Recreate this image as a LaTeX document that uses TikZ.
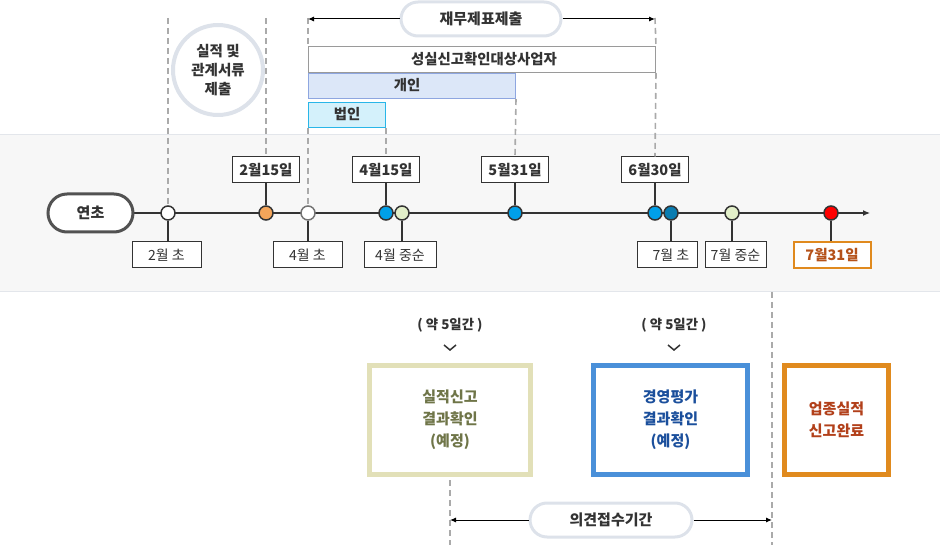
\documentclass[tikz,border=0pt]{standalone}
\usepackage{fontspec}
\setmainfont{Noto Sans CJK KR}
\usetikzlibrary{arrows.meta,calc}
\definecolor{bandfill}{HTML}{F7F7F7}
\definecolor{bandline}{HTML}{E3E6EB}
\definecolor{dashgray}{HTML}{AAAAAA}
\definecolor{pillgray}{HTML}{DDE2EA}
\definecolor{txt}{HTML}{333333}
\definecolor{boxgray}{HTML}{9A9A9A}
\definecolor{gaeinfill}{HTML}{DCE7F8}
\definecolor{gaeinline}{HTML}{8EA6E0}
\definecolor{beobfill}{HTML}{D4F1FB}
\definecolor{beobline}{HTML}{29B6E8}
\definecolor{dotorange}{HTML}{F4A55A}
\definecolor{dotblue}{HTML}{00A0E9}
\definecolor{dotdblue}{HTML}{0A7CB0}
\definecolor{dotgreen}{HTML}{E2EFC9}
\definecolor{dotred}{HTML}{FF0000}
\definecolor{orangeline}{HTML}{E08A1E}
\definecolor{orangetxt}{HTML}{B5521A}
\definecolor{beigeline}{HTML}{E2E0B8}
\definecolor{olivetxt}{HTML}{6F7548}
\definecolor{blueline}{HTML}{4A90D9}
\definecolor{bluetxt}{HTML}{1B4F9C}
\definecolor{redtxt}{HTML}{B2401A}
\tikzset{
  dashln/.style={draw=dashgray, line width=1.6pt, dash pattern=on 6pt off 4pt},
  dot/.style={circle, draw=txt, line width=1.5pt, minimum size=14pt, inner sep=0pt, fill=white},
  toplbl/.style={draw=txt, line width=1pt, fill=white, text=txt, font=\bfseries\fontsize{14.5}{16}\selectfont, minimum width=67pt, minimum height=26pt, inner sep=0pt},
  botlbl/.style={draw=txt, line width=1pt, fill=white, text=txt, font=\fontsize{14}{16}\selectfont, minimum height=26pt, inner sep=0pt},
  stem/.style={draw=txt, line width=1.2pt},
  pill/.style={draw=pillgray, line width=3pt, fill=white, rounded corners=17pt, minimum width=160pt, minimum height=34pt, text=txt, font=\bfseries\fontsize{15}{17}\selectfont, inner sep=0pt},
  arr/.style={draw=black, line width=1pt, -{Latex[length=6pt,width=5pt]}},
  barbox/.style={line width=1pt, minimum height=26pt, inner sep=0pt, anchor=north west},
  bartxt/.style={font=\bfseries\fontsize{14.4}{16}\selectfont, text=txt, inner sep=0pt},
  resbox/.style={line width=5pt, fill=white, minimum height=109pt, inner sep=0pt, align=center, font=\bfseries\fontsize{15}{22}\selectfont},
  note/.style={text=txt, font=\bfseries\fontsize{13.4}{15}\selectfont, inner sep=0pt},
  chev/.style={draw=txt, line width=1.5pt}
}
\begin{document}
\begin{tikzpicture}[x=1pt,y=-1pt]
\useasboundingbox (0,0) rectangle (940,545);
% band
\fill[bandfill] (0,135) rectangle (940,292);
\draw[bandline, line width=1pt] (0,135) -- (940,135) (0,292) -- (940,292);

\coordinate (tlstart) at (133,213);
\coordinate (tend) at (870,213);

% free ends
\coordinate (c168) at (168,18);
\coordinate (c266) at (266,18);
\coordinate (c308) at (308,18);
\coordinate (c386) at (386,128);
\coordinate (c655) at (655,18);
\coordinate (c772a) at (772,292);
\coordinate (c772b) at (772,545);
\coordinate (c450b) at (450,545);

% labels on timeline
\node[toplbl] (l215) at (266,170) {2월15일};
\node[toplbl] (l415) at (386,170) {4월15일};
\node[toplbl] (l531) at (515,170) {5월31일};
\node[toplbl] (l630) at (655,170) {6월30일};

\node[botlbl, minimum width=69pt] (b2) at (166.5,255) {2월 초};
\node[botlbl, minimum width=69pt] (b4) at (307.5,255) {4월 초};
\node[botlbl, minimum width=72pt] (b4m) at (400,255) {4월 중순};
\node[botlbl, minimum width=60pt] (b7) at (667,255) {\hspace*{8pt}7월 초};
\node[botlbl, minimum width=61pt] (b7m) at (735.5,255) {7월 중순};
\node[botlbl, minimum width=77pt, draw=orangeline, line width=2pt, text=orangetxt, font=\bfseries\fontsize{14.5}{16}\selectfont] (b731) at (832,255) {7월31일};

% bars
\node[barbox, draw=boxgray, fill=white, minimum width=347pt] (sung) at (308,46) {};
\node[bartxt] (sungt) at (484,59.5) {성실신고확인대상사업자};
\node[barbox, draw=gaeinline, fill=gaeinfill, minimum width=207pt, minimum height=25pt] (gaein) at (308,73) {};
\node[bartxt] (gaeint) at (407,85.5) {개인};
\node[barbox, draw=beobline, fill=beobfill, minimum width=77pt, minimum height=25pt] (beob) at (308,102) {};
\node[bartxt] (beobt) at (347,114.5) {법인};

% timeline
\draw[line width=1.2pt, draw=txt, -{Latex[length=7pt,width=6pt]}] (tlstart) -- (tend);
\node[draw=txt!85, line width=3pt, fill=white, rounded corners=19pt, minimum width=85pt, minimum height=38pt, text=txt, font=\bfseries\fontsize{15}{17}\selectfont, inner sep=0pt] (yc) at (90.5,213) {연초};

\node[dot] (d1) at (168,213) {};
\node[dot, fill=dotorange] (d2) at (266,213) {};
\node[dot, draw=black!55] (d3) at (308,213) {};
\node[dot, fill=dotblue] (d4) at (386,213) {};
\node[dot, fill=dotgreen] (d5) at (402,213) {};
\node[dot, fill=dotblue] (d6) at (515,213) {};
\node[dot, fill=dotblue] (d7) at (655,213) {};
\node[dot, fill=dotdblue] (d8) at (671,213) {};
\node[dot, fill=dotgreen] (d9) at (732,213) {};
\node[dot, fill=dotred] (d10) at (831,213) {};

% stems
\draw[stem] (l215.south) -- (d2.north);
\draw[stem] (l415.south) -- (d4.north);
\draw[stem] (l531.south) -- (d6.north);
\draw[stem] (l630.south) -- (d7.north);
\draw[stem] (d1.south) -- (d1.south |- b2.north);
\draw[stem] (d3.south) -- (d3.south |- b4.north);
\draw[stem] (d5.south) -- (d5.south |- b4m.north);
\draw[stem] (d8.south) -- (d8.south |- b7.north);
\draw[stem] (d9.south) -- (d9.south |- b7m.north);
\draw[stem] (d10.south) -- (d10.south |- b731.north);

% dashed guides
\draw[dashln] (c168) -- (d1.north);
\draw[dashln] (c266) -- (l215.north);
\draw[dashln] (c308) -- (sung.north west);
\draw[dashln] (beob.south west) -- (d3.north);
\draw[dashln] (c386) -- (l415.north);
\draw[dashln] (gaein.south east) -- (l531.north);
\draw[dashln] (c655) -- (sung.north east);
\draw[dashln] (sung.south east) -- (l630.north);
\draw[dashln] (c772a) -- (c772b);

% circle note
\node[circle, draw=pillgray, line width=4pt, fill=white, minimum size=90pt, inner sep=0pt, align=center, text=txt, font=\bfseries\fontsize{14.5}{19}\selectfont] (circ) at (218,70) {실적 및\\관계서류\\제출};

% 재무제표제출
\coordinate (a1) at (308,19);
\coordinate (a2) at (655,19);
\node[pill] (jm) at (481,19) {재무제표제출};
\draw[arr] (jm.west) -- (a1);
\draw[arr] (jm.east) -- (a2);

% lower
\node[note] (n1) at (450,325) {( 약 5일간 )};
\node[note] (n2) at (674,325) {( 약 5일간 )};
\coordinate (v1) at (450,350);
\coordinate (v2) at (674,350);
\draw[chev] ($(v1)+(-6,-5)$) -- (v1) -- ($(v1)+(6,-5)$);
\draw[chev] ($(v2)+(-6,-5)$) -- (v2) -- ($(v2)+(6,-5)$);

\node[resbox, draw=beigeline, text=olivetxt, minimum width=161pt] (r1) at (450,420) {실적신고\\결과확인\\(예정)};
\node[resbox, draw=blueline, text=bluetxt, minimum width=154pt] (r2) at (670.5,420) {경영평가\\결과확인\\(예정)};
\node[resbox, draw=orangeline, text=redtxt, minimum width=104pt] (r3) at (836.5,420) {업종실적\\신고완료};

\draw[dashln] ([yshift=-3pt]r1.south) -- (c450b);

\coordinate (e1) at (450,520);
\coordinate (e2) at (772,520);
\node[pill, minimum width=162pt] (ui) at (611,520) {의견접수기간};
\draw[arr] (ui.west) -- (e1);
\draw[arr] (ui.east) -- (e2);
\end{tikzpicture}
\end{document}
